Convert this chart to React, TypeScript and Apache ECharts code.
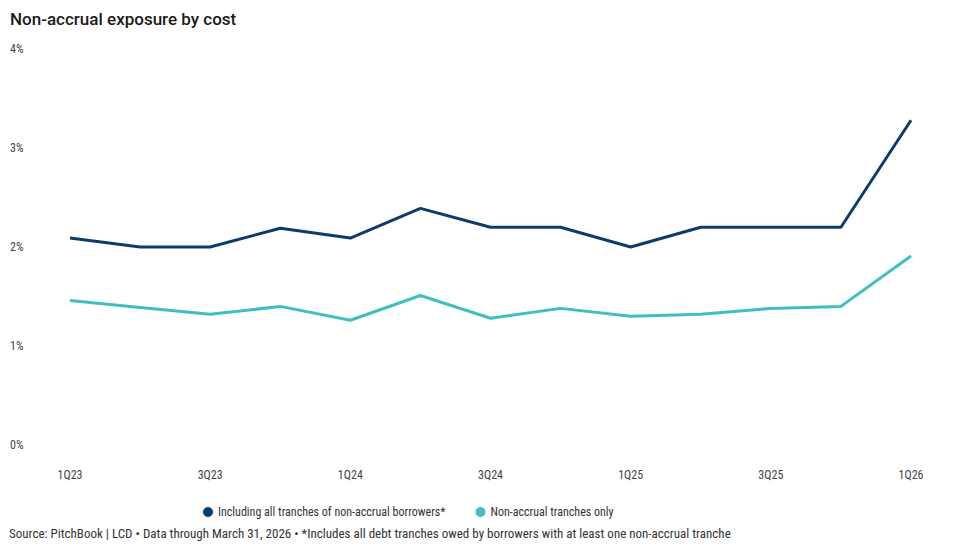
import React, { useEffect, useRef } from "react";
import * as echarts from "echarts";

const quarters = ["1Q23", "2Q23", "3Q23", "4Q23", "1Q24", "2Q24", "3Q24", "4Q24", "1Q25", "2Q25", "3Q25", "4Q25", "1Q26"];
const allTranches = [2.09, 2.0, 2.0, 2.19, 2.09, 2.39, 2.2, 2.2, 2.0, 2.2, 2.2, 2.2, 3.28];
const nonAccrualOnly = [1.46, 1.39, 1.32, 1.4, 1.26, 1.51, 1.28, 1.38, 1.3, 1.32, 1.38, 1.4, 1.91];
const yTicks = [0, 1, 2, 3, 4];
const seriesNames = ["Including all tranches of non-accrual borrowers*", "Non-accrual tranches only"];
const titleText = "Non-accrual exposure by cost";
const sourceText = "Source: PitchBook | LCD • Data through March 31, 2026 • *Includes all debt tranches owed by borrowers with at least one non-accrual tranche";

const NAVY = "#0b3d6c";
const TEAL = "#3fbfbf";
const COND = "'Roboto Condensed', 'Liberation Sans Narrow', 'DejaVu Sans Condensed', sans-serif";

export default function App() {
  const ref = useRef<HTMLDivElement>(null);
  useEffect(() => {
    if (!ref.current) return;
    const chart = echarts.init(ref.current, null, { renderer: "svg" });
    chart.setOption({
      animation: false,
      backgroundColor: "#ffffff",
      title: {
        text: titleText,
        left: 5,
        top: 5,
        textStyle: { fontFamily: "Roboto", fontSize: 17, fontWeight: 500, color: "#1a1a1a" },
      },
      legend: {
        left: 198,
        top: 501,
        icon: "circle",
        itemWidth: 10,
        itemHeight: 10,
        itemGap: 30,
        textStyle: { fontFamily: COND, fontSize: 12, color: "#333" },
        data: seriesNames,
      },
      grid: { left: 70, right: 49, top: 49, bottom: 107 },
      xAxis: {
        type: "category",
        data: quarters,
        boundaryGap: false,
        axisLine: { show: false },
        axisTick: { show: false },
        axisLabel: {
          interval: 1,
          margin: 24,
          fontFamily: COND,
          fontSize: 12,
          color: "#444",
        },
      },
      yAxis: {
        type: "value",
        min: yTicks[0],
        max: yTicks[yTicks.length - 1],
        interval: 1,
        splitLine: { show: false },
        axisLine: { show: false },
        axisTick: { show: false },
        axisLabel: {
          formatter: "{value}%",
          align: "left",
          margin: 60,
          fontFamily: COND,
          fontSize: 12,
          color: "#444",
        },
      },
      series: [
        {
          name: seriesNames[0],
          type: "line",
          data: allTranches,
          showSymbol: false,
          symbol: "circle",
          itemStyle: { color: NAVY },
          lineStyle: { color: NAVY, width: 3 },
        },
        {
          name: seriesNames[1],
          type: "line",
          data: nonAccrualOnly,
          showSymbol: false,
          symbol: "circle",
          itemStyle: { color: TEAL },
          lineStyle: { color: TEAL, width: 3 },
        },
      ],
      graphic: [
        {
          type: "text",
          left: 9,
          top: 527,
          style: { text: sourceText, fontFamily: COND, fontSize: 13, fill: "#333" },
        },
      ],
    });
    return () => chart.dispose();
  }, []);
  return (
    <div style={{ position: "fixed", left: 0, top: 0, width: 960, height: 552, background: "#fff" }}>
      <div ref={ref} style={{ width: 960, height: 552 }} />
    </div>
  );
}
